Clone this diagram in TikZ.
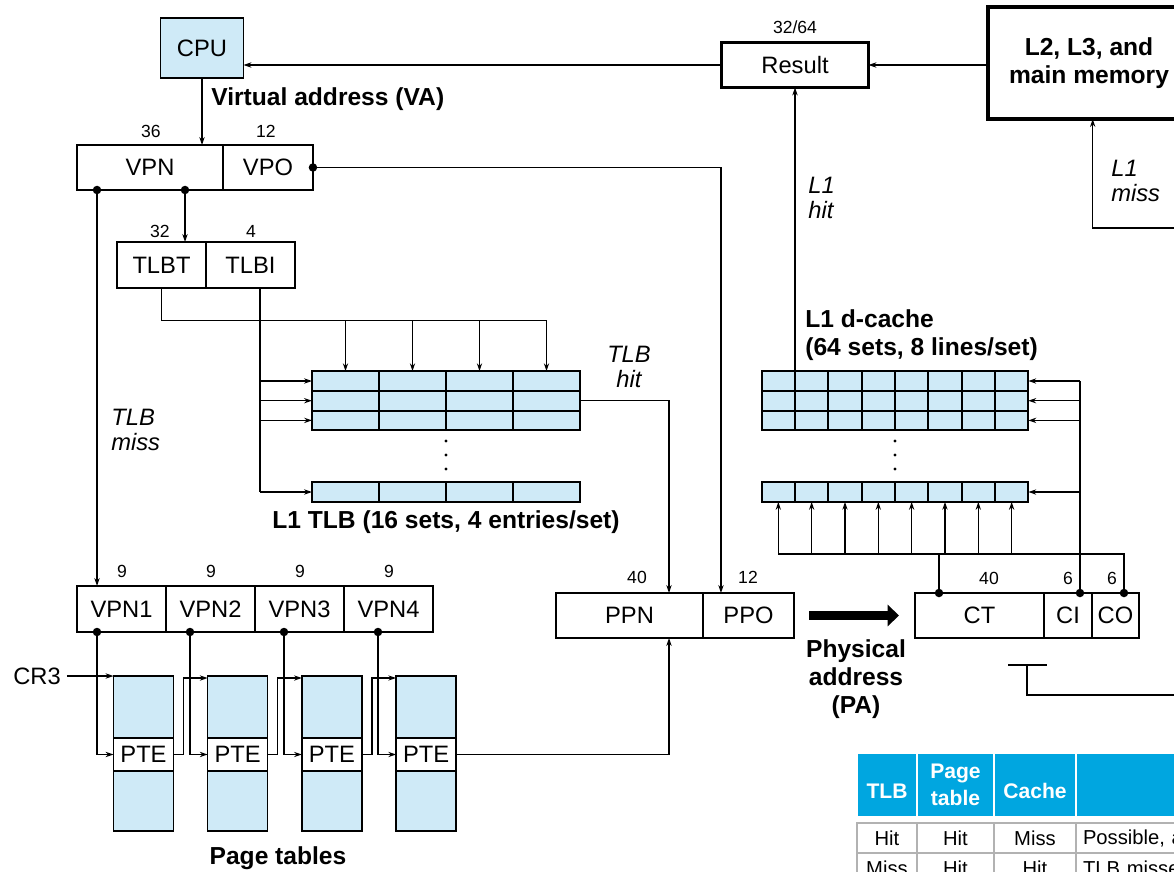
\documentclass[tikz,border=0pt]{standalone}
\usepackage{fontspec}
\setmainfont{Liberation Sans}
\usepackage{tikz}
\usetikzlibrary{arrows.meta, positioning, calc}

\definecolor{cellblue}{RGB}{207,234,247}
\definecolor{headcyan}{RGB}{0,166,224}

\begin{document}
\begin{tikzpicture}[
    x=0.02cm, y=-0.02cm,
    field/.style={rectangle, draw, line width=1.4pt, minimum height=0.9cm, inner sep=0pt, outer sep=0pt, font=\fontsize{13.5}{15}\selectfont},
    cell/.style={rectangle, draw, line width=1.1pt, fill=cellblue, inner sep=0pt, outer sep=0pt, minimum height=0.394cm},
    ptab/.style={rectangle, draw, line width=0.9pt, fill=#1, inner sep=0pt, outer sep=0pt, minimum width=1.2cm, font=\fontsize{13.5}{15}\selectfont},
    bits/.style={font=\fontsize{10}{11}\selectfont},
    lbl/.style={font=\fontsize{13.5}{15}\selectfont},
    title/.style={font=\fontsize{14}{16}\selectfont\bfseries, align=center, inner sep=0pt},
    note/.style={font=\fontsize{13.5}{14.5}\selectfont\itshape, align=left, inner sep=0pt},
    dot/.style={circle, fill, inner sep=0pt, minimum size=0.17cm},
    arrow/.style={-{Stealth[length=4.5pt, width=3pt]}, line width=0.7pt},
    wire/.style={line width=0.7pt},
    bigarrow/.style={-{Triangle[length=6.5pt, width=12pt]}, line width=5pt},
    thead/.style={rectangle, draw=white, line width=1.2pt, fill=headcyan, text=white, inner sep=0pt, outer sep=0pt, minimum height=1.28cm, align=center, font=\fontsize{12}{15.5}\selectfont\bfseries},
    tbody/.style={rectangle, draw=gray!60, line width=0.8pt, inner sep=0pt, outer sep=0pt, minimum height=0.6cm, font=\fontsize{11.5}{13}\selectfont}
]
    \useasboundingbox (0,0) rectangle (1174,872);

    % CPU, result and memory
    \node[field, fill=cellblue, line width=1.1pt, minimum width=1.66cm, minimum height=1.2cm] (cpu) at (202,48) {CPU};
    \node[field, minimum width=2.94cm] (result) at (795,65) {Result};
    \node[bits] (b3264) at (795,27) {32/64};
    \node[field, line width=1.8pt, minimum width=4.04cm, minimum height=2.24cm, font=\fontsize{14}{16}\selectfont\bfseries, align=center] (mem) at (1089,63) {L2, L3, and\\main memory};

    \draw[arrow] (result.west) -- (result.west -| cpu.east);
    \draw[arrow] (mem.west |- result.east) -- (result.east);

    % Virtual address
    \node[title, anchor=west] (va) at (211,99) {Virtual address (VA)};
    \node[field, minimum width=2.92cm] (vpn) at (150,167.5) {VPN};
    \node[field, minimum width=1.8cm, right=0pt of vpn] (vpo) {VPO};
    \node[bits] (b36) at (151,131) {36};
    \node[bits] (b12) at (266,131) {12};
    \draw[arrow, line width=1.2pt] (cpu.south) -- (cpu.south |- vpn.north);

    \node[dot] (d-miss) at ($(vpn.south west)+(20,0)$) {};
    \node[dot] (d-tlb) at ($(vpn.south west)+(108,0)$) {};
    \node[dot] (d-vpo) at (vpo.east) {};

    % TLB tag and index
    \node[field, minimum width=1.78cm, minimum height=0.92cm] (tlbt) at (161.5,265) {TLBT};
    \node[field, minimum width=1.78cm, minimum height=0.92cm, right=0pt of tlbt] (tlbi) {TLBI};
    \node[bits] (b32) at (160,231) {32};
    \node[bits] (b4) at (251,231) {4};
    \draw[arrow, line width=1.2pt] (d-tlb.center) -- (d-tlb.center |- tlbt.north);

    % L1 TLB
    \foreach \r/\y in {1/381, 2/400.7, 3/420.4, 4/492} {
        \foreach \c in {1,...,4} {
            \node[cell, minimum width=1.34cm] (tlb-\r-\c) at (278.5+67*\c, \y) {};
        }
    }
    \node[title] (tlblabel) at (446,522) {L1 TLB (16 sets, 4 entries/set)};

    \draw[wire] (tlbt.south) |- (tlb-1-4.north |- 0,320.5);
    \foreach \c in {1,...,4} {
        \draw[arrow] (tlb-1-\c.north |- 0,320.5) -- (tlb-1-\c.north);
    }
    \coordinate (tlbi-out) at ($(tlbi.south)+(9.5,0)$);
    \draw[wire] (tlbi-out) -- (tlbi-out |- tlb-4-1.west);
    \foreach \r in {1,...,4} {
        \draw[arrow] (tlbi-out |- tlb-\r-1.west) -- (tlb-\r-1.west);
    }

    % L1 d-cache
    \foreach \r/\y in {1/381, 2/400.7, 3/420.4, 4/492} {
        \foreach \c in {1,...,8} {
            \node[cell, minimum width=0.667cm] (c-\r-\c) at (745+33.33*\c, \y) {};
        }
    }
    \node[title, anchor=west, align=left] (cachelabel) at (805,335) {L1 d-cache\\(64 sets, 8 lines/set)};

    % Ellipses
    \foreach \x in {446, 895} {
        \foreach \y in {441, 455, 469} {
            \fill (\x,\y) circle (0.9pt);
        }
    }

    % Page table walk
    \foreach \i in {1,...,4} {
        \node[field, minimum width=1.78cm, minimum height=0.92cm] (vpn\i) at (32.5+89*\i, 609) {VPN\i};
        \node[bits] (nine\i) at (33+89*\i, 571) {9};
    }
    \foreach \i in {1,...,4} {
        \node[ptab=cellblue, minimum height=1.24cm] (pt-top-\i) at (49.3+94.2*\i, 707) {};
        \node[ptab=white, minimum height=0.66cm, below=0pt of pt-top-\i] (pte-\i) {PTE};
        \node[ptab=cellblue, minimum height=1.2cm, below=0pt of pte-\i] (pt-bot-\i) {};
    }
    \node[title] (ptlabel) at (278,858) {Page tables};
    \node[lbl] (cr3) at (37,676) {CR3};
    \draw[arrow] (cr3.east) -- (cr3 -| pt-top-1.west);

    \draw[arrow] (d-miss.center) -- (d-miss.center |- vpn1.north);
    \node[note, anchor=west] (tlbmiss) at (111,430) {TLB\\miss};

    \foreach \i/\dx in {1/97, 2/190, 3/284, 4/378} {
        \node[dot] (d-vpn\i) at (vpn\i.south -| \dx,0) {};
        \draw[arrow] (d-vpn\i.center) |- (pte-\i.west);
    }
    \foreach \i/\j in {1/2, 2/3, 3/4} {
        \draw[arrow] (pte-\i.east) -- ++(10,0) |- ($(pt-top-\j.north west)+(0,2)$);
    }

    % Physical address
    \node[field, minimum width=2.94cm] (ppn) at (629.5,615.5) {PPN};
    \node[field, minimum width=1.82cm, right=0pt of ppn] (ppo) {PPO};
    \node[bits] (b40) at (637,577) {40};
    \node[bits] (b12b) at (748,577) {12};

    \draw[arrow] (tlb-2-4.east) -| ($(ppn.north)+(39.5,0)$);
    \node[note, align=center] (tlbhit) at (629,367) {TLB\\hit};
    \draw[arrow] (d-vpo.center) -| ($(ppo.north west)+(18,0)$);
    \draw[arrow] (pte-4.east) -| ($(ppn.south)+(39.5,0)$);

    \node[field, minimum width=2.58cm] (ct) at (979.5,615.5) {CT};
    \node[field, minimum width=0.96cm, right=0pt of ct] (ci) {CI};
    \node[field, minimum width=0.94cm, right=0pt of ci] (co) {CO};
    \node[bits] (b40c) at (989,578) {40};
    \node[bits] (b6a) at (1068,578) {6};
    \node[bits] (b6b) at (1112,578) {6};

    \draw[bigarrow, shorten <=0.31cm, shorten >=0.32cm] (ppo.east) -- (ct.west);
    \node[title] (pa) at (856,679) {Physical\\address\\(PA)};

    % Cache lookup
    \node[dot] (d-ct) at ($(ct.north west)+(24,0)$) {};
    \node[dot] (d-ci) at ($(ci.north)+(12,0)$) {};
    \node[dot] (d-co) at ($(co.north)+(8.5,0)$) {};

    \draw[wire] (d-ci.center) -- (d-ci.center |- c-1-8.east);
    \foreach \r in {1,...,4} {
        \draw[arrow] (d-ci.center |- c-\r-8.east) -- (c-\r-8.east);
    }
    \draw[wire] (d-co.center) |- (c-4-1.south |- 0,554);
    \draw[wire] (d-ct.center) -- (d-ct.center |- 0,554);
    \foreach \c in {1,...,8} {
        \draw[arrow] (c-4-\c.south |- 0,554) -- (c-4-\c.south);
    }

    \draw[arrow] (c-1-1.north east) -- (c-1-1.north east |- result.south);
    \node[note, anchor=west] (l1hit) at (808,198) {L1\\hit};

    \coordinate (missfrom) at (1180,228);
    \draw[arrow] (missfrom) -| ($(mem.south)+(3.7,0)$);
    \node[note, anchor=west] (l1miss) at (1111,181) {L1\\miss};

    \draw[wire] (1008,665) -- (1047,665);
    \draw[wire] (1027,665) |- (1180,695);

    % Summary table
    \foreach \x/\w/\t [count=\k] in {887/1.2cm/{\mbox{}\\TLB}, 955.5/1.54cm/{Page\\table}, 1035/1.64cm/{\mbox{}\\Cache}, 1138/2.48cm/{}} {
        \node[thead, minimum width=\w] (h-\k) at (\x,785) {\t};
    }
    \foreach \y/\a/\b/\c/\d [count=\r] in {838/Hit/Hit/Miss/{Possible, a}, 868/Miss/Hit/Hit/{TLB misse}} {
        \node[tbody, minimum width=1.2cm] (t-\r-1) at (887,\y) {\a};
        \node[tbody, minimum width=1.54cm] (t-\r-2) at (955.5,\y) {\b};
        \node[tbody, minimum width=1.64cm] (t-\r-3) at (1035,\y) {\c};
        \node[tbody, inner xsep=0.14cm, text width=2.2cm, align=left] (t-\r-4) at (1138,\y) {\d};
    }
\end{tikzpicture}
\end{document}
